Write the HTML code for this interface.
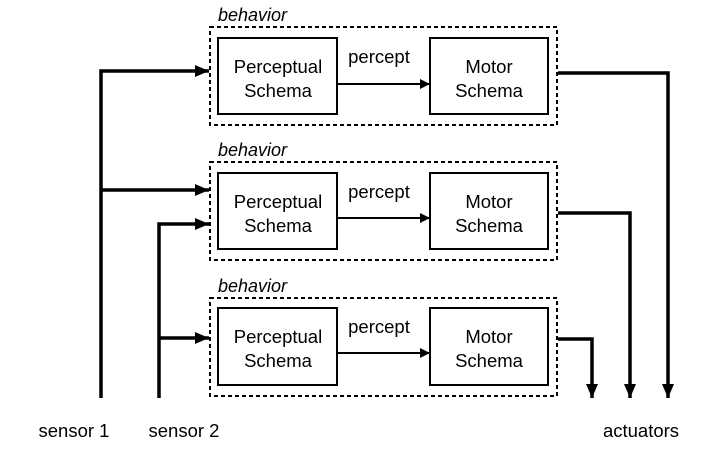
<!DOCTYPE html>
<html><head><style>body{margin:0;background:#fff}</style></head><body>
<svg width="719" height="458" xmlns="http://www.w3.org/2000/svg" font-family="Liberation Sans, sans-serif">
<defs><marker id="a" markerWidth="10" markerHeight="10" refX="9" refY="5" orient="auto" markerUnits="userSpaceOnUse"><path d="M0,0 L10,5 L0,10Z" fill="#000"/></marker>
<marker id="b" markerWidth="16" markerHeight="14" refX="14" refY="6" orient="auto" markerUnits="userSpaceOnUse"><path d="M0,0 L14,6 L0,12Z" fill="#000"/></marker></defs>
<g fill="none" stroke="#000">
<g stroke-width="2" stroke-dasharray="4,3">
<rect x="210" y="27" width="347" height="98"/>
<rect x="210" y="162" width="347" height="98"/>
<rect x="210" y="298" width="347" height="98"/>
</g>
<g stroke-width="2">
<rect x="218" y="38" width="119" height="76"/><rect x="430" y="38" width="118" height="76"/>
<rect x="218" y="173" width="119" height="76"/><rect x="430" y="173" width="118" height="76"/>
<rect x="218" y="308" width="119" height="77"/><rect x="430" y="308" width="118" height="77"/>
<line x1="337" y1="84" x2="429" y2="84" marker-end="url(#a)"/>
<line x1="337" y1="218" x2="429" y2="218" marker-end="url(#a)"/>
<line x1="337" y1="353" x2="429" y2="353" marker-end="url(#a)"/>
</g>
<g stroke-width="3.5">
<polyline points="101,398 101,71 209,71" marker-end="url(#b)"/>
<line x1="101" y1="190" x2="209" y2="190" marker-end="url(#b)"/>
<polyline points="159,398 159,224 209,224" marker-end="url(#b)"/>
<line x1="159" y1="338" x2="209" y2="338" marker-end="url(#b)"/>
<polyline points="558,73 668,73 668,398" marker-end="url(#b)"/>
<polyline points="558,213 630,213 630,398" marker-end="url(#b)"/>
<polyline points="558,339 592,339 592,398" marker-end="url(#b)"/>
</g>
</g>
<g font-size="18.5" text-anchor="middle" fill="#000">
<text x="278" y="73">Perceptual</text><text x="278" y="97">Schema</text>
<text x="489" y="73">Motor</text><text x="489" y="97">Schema</text>
<text x="278" y="208">Perceptual</text><text x="278" y="232">Schema</text>
<text x="489" y="208">Motor</text><text x="489" y="232">Schema</text>
<text x="278" y="343">Perceptual</text><text x="278" y="367">Schema</text>
<text x="489" y="343">Motor</text><text x="489" y="367">Schema</text>
<text x="379" y="63">percept</text><text x="379" y="198">percept</text><text x="379" y="333">percept</text>
<text x="74" y="437">sensor 1</text><text x="184" y="437">sensor 2</text><text x="641" y="437">actuators</text>
</g>
<g font-size="18" font-style="italic" fill="#000">
<text x="218" y="21">behavior</text><text x="218" y="156">behavior</text><text x="218" y="292">behavior</text>
</g>
</svg>
</body></html>
